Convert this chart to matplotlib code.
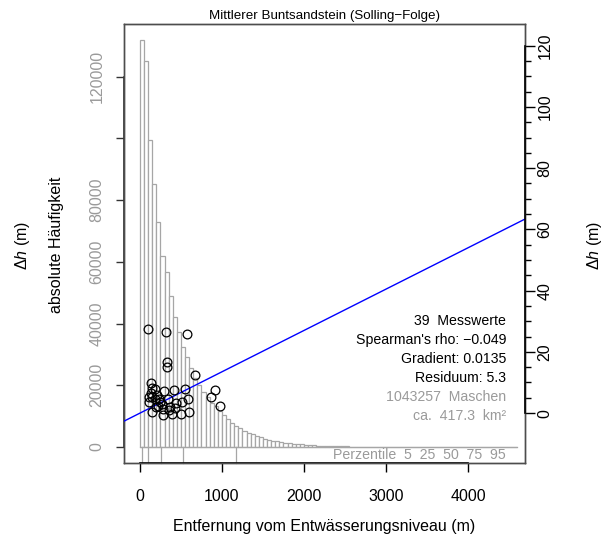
import matplotlib
matplotlib.use("Agg")
import matplotlib.pyplot as plt
import matplotlib.transforms as mtransforms
import numpy as np

plt.rcParams['font.family'] = ['Liberation Sans', 'DejaVu Sans']
plt.rcParams['mathtext.fontset'] = 'custom'
plt.rcParams['mathtext.rm'] = 'Liberation Sans'
plt.rcParams['mathtext.it'] = 'Liberation Sans:italic'

# ---------------------------------------------------------------- data
title = "Mittlerer Buntsandstein (Solling\u2212Folge)"
x_label = "Entfernung vom Entw\u00e4sserungsniveau (m)"
count_label = "absolute H\u00e4ufigkeit"
dh_label = r"$\Delta h$ (m)"

# histogram of cell distances, 50 m bins starting at 0 m
bin_width = 50
bin_counts = [
    131900, 125000, 99500, 85350, 73030, 61900, 56600, 48950, 42000, 37200,
    32500, 29100, 25500, 22270, 20100, 17900, 16300, 14360, 13300, 11670,
    10370, 9080, 7880, 6900, 6060, 5190, 4640, 4100, 3570, 3140,
    2700, 2370, 2040, 1840, 1620, 1400, 1190, 1080, 970, 860,
    650, 580, 510, 450, 400, 350, 305, 265, 230, 200,
    175, 150, 130, 112, 96, 82, 70, 60, 51, 43,
    36, 30, 25, 21, 18, 15, 12, 10, 8, 7,
    6, 5, 4, 3, 3, 2, 2, 2, 1, 1,
    1, 1, 1, 0, 0, 1, 0, 0, 0, 0,
    0, 1,
]

percentile_levels = [5, 25, 50, 75, 95]
percentile_values = [20, 100, 255, 530, 1170]

# measured height differences vs. distance
dist_m = [101, 313, 570, 326, 333, 674, 130, 150, 183, 289,
          411, 552, 918, 862, 976, 106, 113, 150, 187, 235,
          191, 150, 223, 280, 284, 350, 366, 394, 439, 496,
          516, 589, 601, 338, 244, 134, 207, 427, 268]
dh_m = [27.4, 26.6, 25.8, 16.6, 15.0, 12.6, 9.9, 8.1, 7.8, 7.1,
        7.4, 7.8, 7.5, 5.3, 2.4, 5.2, 3.7, 5.3, 4.5, 4.6,
        1.9, 0.4, 2.3, 1.5, -0.7, 1.0, 1.9, -0.3, 3.3, -0.3,
        3.7, 4.7, 0.4, 4.5, 3.6, 6.6, 5.9, 1.6, 3.0]

spearman_rho = -0.049
gradient = 0.0135
intercept = 0.0
residuum = 5.3
n_cells = 1043257
area_km2 = 417.3

count_ticks = [0, 20000, 40000, 60000, 80000, 100000, 120000]
count_ticklabels = ["0", "20000", "40000", "60000", "80000", "", "120000"]
dh_ticks = [0, 20, 40, 60, 80, 100, 120]
x_ticks = [0, 1000, 2000, 3000, 4000]

# ---------------------------------------------------------------- figure
W, H = 608, 542
fig = plt.figure(figsize=(W / 100, H / 100), dpi=100)
L, R, T, B = 124, 525, 24, 463
ax = fig.add_axes([L / W, 1 - B / H, (R - L) / W, (B - T) / H])
ax2 = ax.twinx()

x_min, x_max = -195, 4695
ax.set_xlim(x_min, x_max)
ax.set_ylim(-5190, 137100)
ax2.set_ylim(-16.3, 127.1)

box_col = "#4d4d4d"
hist_col = "#a6a6a6"
grey_txt = "#9a9a9a"

# histogram bars
edges = np.arange(len(bin_counts)) * bin_width
ax.bar(edges, bin_counts, width=bin_width, align="edge", facecolor="white",
       edgecolor=hist_col, linewidth=0.9, zorder=2)
ax.plot([0, len(bin_counts) * bin_width], [0, 0], color=hist_col, lw=0.9, zorder=2)

# percentile marks below the histogram
for pv in percentile_values:
    ax.plot([pv, pv], [0, -5190], color=hist_col, lw=0.9, zorder=2, clip_on=False)

# measured points and regression line
ax2.plot(dist_m, dh_m, linestyle="none", marker="o", markersize=6.3,
         markerfacecolor="none", markeredgecolor="black", markeredgewidth=0.9,
         zorder=4)
xl = np.array([x_min, x_max])
ax2.plot(xl, intercept + gradient * xl, color="#0000ff", lw=1.0, zorder=3)
ax2.set_xlim(x_min, x_max)

# frame
for a in (ax, ax2):
    for s in a.spines.values():
        s.set_color(box_col)
        s.set_linewidth(1.0)

# x axis
ax.set_xticks(x_ticks)
ax.set_xticklabels([str(v) for v in x_ticks])
ax.tick_params(axis="x", direction="out", length=6.5, width=1.0, color="black",
               pad=12, labelsize=11.5, labelcolor="black")
ax.plot([0, 4000], [0, 0], transform=mtransforms.blended_transform_factory(ax.transData, ax.transAxes),
        color="black", lw=1.2, clip_on=False, zorder=5)

# left (count) axis
ax.set_yticks(count_ticks)
ax.set_yticklabels(count_ticklabels, rotation=90, va="center")
ax.tick_params(axis="y", direction="out", length=6, width=1.0, color="#333333",
               pad=8, labelsize=11.5, labelcolor=grey_txt)
ax.plot([0, 0], [0, 120000], transform=mtransforms.blended_transform_factory(ax.transAxes, ax.transData),
        color="#333333", lw=1.2, clip_on=False, zorder=5)

# right (height difference) axis
ax2.set_yticks(dh_ticks)
ax2.set_yticks(np.arange(0, 121, 5), minor=True)
ax2.set_yticklabels([str(v) for v in dh_ticks], rotation=90, va="center")
ax2.tick_params(axis="y", which="major", direction="out", length=7.5, width=1.0,
                color="black", pad=1.5, labelsize=11.5, labelcolor="black")
ax2.tick_params(axis="y", which="minor", direction="out", length=4.5, width=1.0,
                color="black")
ax2.plot([1, 1], [0, 120], transform=mtransforms.blended_transform_factory(ax2.transAxes, ax2.transData),
         color="black", lw=1.2, clip_on=False, zorder=5)

# titles and axis labels
fig.text(325 / W, 1 - 16 / H, title, ha="center", va="center", fontsize=9.6)
fig.text(324 / W, 1 - 527 / H, x_label, ha="center", va="center", fontsize=11.5)
mid_y = 1 - 245 / H
fig.text(23 / W, mid_y, dh_label, ha="center", va="center", rotation=90, fontsize=11.5)
fig.text(57 / W, mid_y, count_label, ha="center", va="center", rotation=90, fontsize=11.5)
fig.text(595 / W, mid_y, dh_label, ha="center", va="center", rotation=90, fontsize=11.5)

# statistics block
stats = [
    (f"{len(dist_m)}  Messwerte", "black"),
    (f"Spearman's rho: {spearman_rho:.3f}".replace("-", "\u2212"), "black"),
    (f"Gradient: {gradient:.4f}", "black"),
    (f"Residuum: {residuum:.1f}", "black"),
    (f"{n_cells}  Maschen", grey_txt),
    (f"ca.  {area_km2:.1f}  km\u00b2", grey_txt),
]
for i, (txt, col) in enumerate(stats):
    fig.text(506 / W, 1 - (321 + i * 19.1) / H, txt, ha="right", va="center",
             fontsize=10.2, color=col)

perc_txt = "Perzentile  " + "  ".join(str(p) for p in percentile_levels)
fig.text(506 / W, 1 - 455 / H, perc_txt, ha="right", va="center", fontsize=10.2,
         color=grey_txt)

fig.savefig("out.png", dpi=100)
